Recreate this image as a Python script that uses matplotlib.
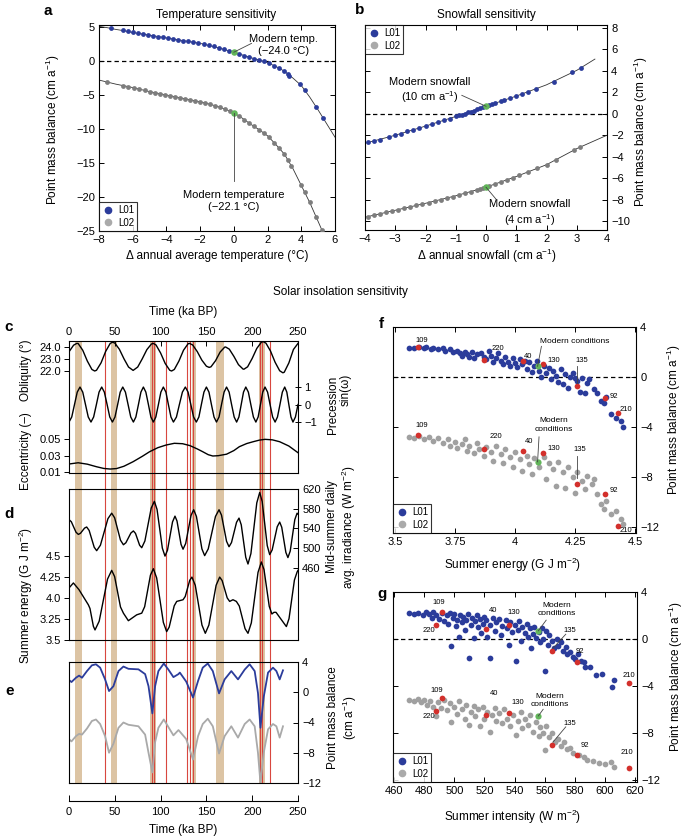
import numpy as np
import matplotlib.pyplot as plt
from matplotlib.lines import Line2D

plt.rcParams['font.family'] = ['Liberation Sans', 'DejaVu Sans']
plt.rcParams['mathtext.fontset'] = 'custom'
plt.rcParams['mathtext.rm'] = 'Liberation Sans'
plt.rcParams['mathtext.it'] = 'Liberation Sans:italic'
plt.rcParams['axes.linewidth'] = 0.8

# ---------------- data ----------------
# a: temperature sensitivity
a_curve_x = [-8, -7.5, -7, -6.5, -6, -5.5, -5, -4.5, -4, -3.5, -3, -2.5, -2, -1.5, -1, -0.5,
             0, 0.5, 1, 1.5, 2, 2.5, 3, 3.5, 4, 4.5, 5, 5.5, 6]
a_l01_curve = [5.1, 4.9, 4.65, 4.45, 4.2, 4.0, 3.8, 3.6, 3.4, 3.2, 3.0, 2.8, 2.6, 2.3, 2.0, 1.65,
               1.3, 0.9, 0.5, 0.15, -0.25, -0.8, -1.5, -2.5, -3.6, -5.3, -7.2, -9.2, -11.2]
a_l02_curve_x = [-8, -7.5, -7, -6.5, -6, -5.5, -5, -4.5, -4, -3.5, -3, -2.5, -2, -1.5, -1, -0.5,
                 0, 0.5, 1, 1.5, 2, 2.5, 3, 3.5, 4, 4.5, 5, 5.3]
a_l02_curve = [-2.8, -3.1, -3.4, -3.65, -3.9, -4.2, -4.5, -4.75, -5.0, -5.25, -5.5, -5.75, -6.0,
               -6.3, -6.65, -7.1, -7.6, -8.4, -9.3, -10.1, -11.0, -12.3, -13.7, -15.8, -18.3,
               -20.8, -23.6, -25.3]
a_l01_x = [-7.3, -6.6, -6.3, -6.0, -5.7, -5.4, -5.1, -4.8, -4.5, -4.2, -3.9, -3.6, -3.3, -3.0,
           -2.7, -2.4, -2.1, -1.8, -1.5, -1.2, -0.9, -0.6, -0.3, 0.3, 0.6, 0.9, 1.2, 1.5, 1.8,
           2.1, 2.4, 2.7, 3.0, 3.2, 3.3, 3.9, 4.2, 4.9, 5.3]
a_l01_y = [4.8, 4.5, 4.35, 4.2, 4.1, 3.95, 3.85, 3.7, 3.6, 3.5, 3.35, 3.25, 3.1, 3.0, 2.9, 2.75,
           2.65, 2.5, 2.3, 2.15, 1.95, 1.7, 1.5, 1.05, 0.8, 0.6, 0.35, 0.15, -0.05, -0.35, -0.7,
           -1.05, -1.5, -1.9, -2.2, -3.4, -4.3, -6.8, -8.4]
a_l02_x = [-7.5, -6.6, -6.3, -5.9, -5.6, -5.3, -5.0, -4.7, -4.4, -4.1, -3.8, -3.5, -3.2, -2.9,
           -2.6, -2.3, -2.0, -1.7, -1.4, -1.1, -0.8, -0.5, -0.2, 0.3, 0.6, 0.9, 1.2, 1.5, 1.8,
           2.1, 2.4, 2.7, 3.0, 3.2, 3.4, 4.0, 4.2, 4.5, 4.9, 5.2]
a_l02_y = [-3.1, -3.6, -3.75, -3.95, -4.15, -4.3, -4.5, -4.65, -4.8, -4.95, -5.1, -5.25, -5.4,
           -5.55, -5.7, -5.85, -6.0, -6.2, -6.35, -6.55, -6.8, -7.1, -7.4, -8.05, -8.6, -9.1,
           -9.6, -10.1, -10.6, -11.2, -12.0, -12.8, -13.7, -14.5, -15.4, -18.3, -19.3, -20.8,
           -23.0, -24.8]
a_modern = [1.3, -7.6]

# b: snowfall sensitivity
b_l01_curve_x = [-4, -3, -2, -1, 0, 1, 2, 3, 3.6]
b_l01_curve = [-2.75, -2.0, -1.15, -0.25, 0.7, 1.65, 2.7, 4.05, 5.1]
b_l02_curve_x = [-4, -3, -2, -1, 0, 1, 2, 3, 4]
b_l02_curve = [-9.65, -9.0, -8.35, -7.65, -6.85, -5.85, -4.75, -3.25, -2.0]
b_l01_x = [-3.9, -3.7, -3.5, -3.2, -3.0, -2.8, -2.6, -2.4, -2.2, -2.0, -1.8, -1.6, -1.4, -1.2,
           -1.0, -0.9, -0.8, -0.7, -0.6, -0.5, -0.4, -0.3, -0.2, -0.1, 0.1, 0.2, 0.3, 0.5, 0.6,
           0.8, 1.0, 1.2, 1.4, 1.65, 2.25, 2.85, 3.15]
b_l01_y = [-2.65, -2.5, -2.4, -2.15, -2.0, -1.85, -1.65, -1.5, -1.33, -1.15, -0.97, -0.8, -0.62,
           -0.45, -0.25, -0.15, -0.07, 0.02, 0.12, 0.2, 0.3, 0.4, 0.5, 0.6, 0.8, 0.9, 0.98, 1.18,
           1.27, 1.46, 1.65, 1.85, 2.05, 2.35, 3.0, 3.85, 4.3]
b_l02_x = [-3.9, -3.7, -3.5, -3.3, -3.1, -2.9, -2.7, -2.5, -2.3, -2.1, -1.9, -1.7, -1.5, -1.3,
           -1.1, -0.9, -0.7, -0.5, -0.3, -0.2, -0.1, 0.1, 0.3, 0.5, 0.7, 0.9, 1.1, 1.4, 1.7, 2.0,
           2.3, 2.9, 3.1]
b_l02_y = [-9.6, -9.45, -9.33, -9.2, -9.07, -8.93, -8.8, -8.68, -8.55, -8.42, -8.28, -8.14, -8.0,
           -7.86, -7.72, -7.57, -7.41, -7.25, -7.09, -7.01, -6.93, -6.75, -6.55, -6.35, -6.15,
           -5.95, -5.74, -5.41, -5.08, -4.75, -4.3, -3.4, -3.1]
b_modern = [0.7, -6.85]

# c: orbital parameters (ka BP)
obl_t = [0, 5, 8.5, 10, 15, 20, 25, 28, 30, 35, 40, 45, 47.5, 50, 55, 60, 65, 70, 75, 80, 85, 90,
         92, 95, 100, 105, 110, 112, 115, 120, 125, 130, 131.5, 135, 140, 145, 150, 153, 155,
         160, 165, 170, 171, 175, 180, 185, 190, 191, 195, 200, 205, 210, 212, 215, 220, 225,
         230, 233.5, 235, 240, 245, 250]
obliquity = [23.6, 24.15, 24.3, 24.29, 23.73, 22.83, 22.13, 22.0, 22.06, 22.68, 23.63, 24.3, 24.4,
             24.33, 23.81, 23.02, 22.33, 22.05, 22.33, 23.02, 23.78, 24.25, 24.3, 24.17, 23.5,
             22.63, 22.06, 22.0, 22.13, 22.83, 23.73, 24.27, 24.3, 24.17, 23.62, 22.91, 22.4,
             22.3, 22.35, 22.86, 23.58, 23.99, 24.0, 23.82, 23.22, 22.53, 22.16, 22.15, 22.35,
             23.05, 23.88, 24.4, 24.45, 24.32, 23.66, 22.73, 22.02, 21.85, 21.9, 22.67, 23.79, 24.3]
prec_t = [0, 3, 6, 9, 12, 15, 18, 21, 24, 26.9, 29.9, 32.8, 35.7, 38.6, 41.6, 44.5, 47.4, 50.2,
          53.1, 55.9, 58.7, 61.6, 64.5, 67.4, 70.3, 73.0, 75.8, 78.5, 81.2, 83.9, 86.7, 89.4,
          92.1, 94.8, 97.6, 100.3, 103, 105.8, 108.5, 111.3, 114, 117.3, 120.5, 123.8, 127, 130,
          133, 136, 139, 141.8, 144.5, 147.3, 150, 152.8, 155.5, 158.3, 161, 163.8, 166.5, 169.3,
          172, 174.8, 177.5, 180.3, 183, 185.5, 188, 190.5, 193, 195.8, 198.5, 201.3, 204, 206.5,
          209, 211.5, 214, 216.8, 219.5, 222.3, 225, 227.6, 230.3, 232.9, 235.5, 237.8, 240,
          242.3, 244.5, 247.2, 250]
precession = [-1, -0.71, 0, 0.71, 1, 0.71, 0, -0.71, -1, -0.71, 0, 0.71, 1, 0.71, 0, -0.71, -1,
              -0.71, 0, 0.71, 1, 0.71, 0, -0.71, -1, -0.71, 0, 0.71, 1, 0.71, 0, -0.71, -1, -0.71,
              0, 0.71, 1, 0.71, 0, -0.71, -1, -0.71, 0, 0.71, 1, 0.71, 0, -0.71, -1, -0.71, 0,
              0.71, 1, 0.71, 0, -0.71, -1, -0.71, 0, 0.71, 1, 0.71, 0, -0.71, -1, -0.71, 0, 0.71,
              1, 0.71, 0, -0.71, -1, -0.71, 0, 0.71, 1, 0.71, 0, -0.71, -1, -0.71, 0, 0.71, 1,
              0.71, 0, -0.71, -1, -0.71, 0]
ecc_t = [0, 10, 20, 30, 38, 45, 52, 60, 70, 80, 88, 97, 106, 115, 124, 132, 140, 146, 152, 157,
         163, 172, 180, 186, 194, 201, 208, 214, 222, 230, 240, 250]
eccentricity = [0.0197, 0.0212, 0.0195, 0.0164, 0.0143, 0.0136, 0.0142, 0.017, 0.0225, 0.029,
                0.0346, 0.0395, 0.0427, 0.0448, 0.0443, 0.042, 0.038, 0.0346, 0.031, 0.0294,
                0.0298, 0.0316, 0.036, 0.0407, 0.0445, 0.0467, 0.0487, 0.0496, 0.049, 0.0467,
                0.0415, 0.0334]

# d: mid-summer irradiance (W m-2) and summer energy (GJ m-2)
irr_t = [0, 2.55, 5.1, 7.65, 10.2, 12.5, 14.75, 17.0, 19.3, 22.0, 24.75, 27.5, 30.2, 34.3, 38.4,
         42.5, 46.6, 49.8, 53.0, 56.2, 59.4, 62.1, 64.85, 67.6, 70.3, 72.6, 74.85, 77.1, 79.4,
         82.85, 86.3, 89.75, 93.2, 96.1, 99.0, 101.9, 104.8, 107.5, 110.25, 113.0, 115.7, 117.9,
         120.1, 122.3, 124.5, 127.4, 130.3, 133.2, 136.1, 139.1, 142.1, 145.1, 148.1, 152.0,
         155.95, 159.9, 163.8, 166.5, 169.25, 172.0, 174.7, 177.4, 180.15, 182.9, 185.6, 188.05,
         190.5, 192.95, 195.4, 198.6, 201.8, 205.0, 208.2, 210.9, 213.65, 216.4, 219.1, 221.8,
         224.55, 227.3, 230, 232.25, 234.5, 236.75, 239, 241.5, 244, 246.5, 249, 250]
irradiance = [558, 553.6, 543, 532.4, 528, 530.2, 535.5, 540.8, 543, 536, 519, 502, 495, 506.1,
              533, 559.9, 571, 561.7, 539, 516.3, 507, 511.1, 521, 530.9, 535, 530, 518, 506, 501,
              514.7, 548, 581.3, 595, 578.8, 539.5, 500.2, 484, 495.8, 524.5, 553.2, 565, 555.2,
              531.5, 507.8, 498, 509.7, 538, 566.3, 578, 564.4, 531.5, 498.6, 485, 498.6, 531.5,
              564.4, 578, 567, 540.5, 514, 503, 511.5, 532, 552.5, 561, 547.4, 514.5, 481.6, 468,
              489.2, 540.5, 591.8, 613, 594.6, 550, 505.4, 487, 496.6, 520, 543.4, 553, 542.5,
              517, 491.5, 481, 494.1, 526, 557.9, 571, 569]
en_t = [0, 2.4, 4.8, 7.85, 10.9, 16, 21.1, 22.9, 24.75, 26.6, 28.4, 32.95, 37.5, 42.05, 46.6,
        49.8, 53.0, 56.2, 59.4, 62.1, 64.8, 69.35, 73.9, 76.65, 79.4, 82.6, 85.75, 88.9, 92.1,
        95.7, 99.35, 103.0, 106.6, 109.35, 112.1, 114.85, 117.6, 124.5, 126.9, 129.35, 131.8,
        134.2, 137.85, 141.5, 145.15, 148.8, 152.7, 156.65, 160.6, 164.5, 167.2, 169.95, 172.7,
        175.4, 179, 182.7, 185.9, 189.05, 192.2, 195.4, 199.05, 202.7, 206.35, 210, 212.9,
        215.75, 218.6, 221.5, 223.75, 226, 231.65, 237.3, 240.2, 243.15, 246.1, 249, 250]
energy = [4.12, 4.15, 4.18, 4.14, 4.10, 4.01, 3.92, 3.876, 3.77, 3.664, 3.62, 3.724, 3.975, 4.226,
          4.33, 4.256, 4.075, 3.894, 3.82, 3.775, 3.73, 3.765, 3.80, 3.81, 3.82, 3.897, 4.085,
          4.273, 4.35, 4.24, 3.975, 3.71, 3.60, 3.653, 3.78, 3.907, 3.96, 3.98, 4.019, 4.115,
          4.211, 4.25, 4.152, 3.915, 3.678, 3.58, 3.678, 3.915, 4.152, 4.25, 4.208, 4.105, 4.002,
          3.96, 3.98, 3.96, 3.905, 3.77, 3.635, 3.58, 3.704, 4.005, 4.306, 4.43, 4.339, 4.12,
          3.901, 3.81, 3.83, 3.83, 3.745, 3.66, 3.755, 3.985, 4.215, 4.31, 4.33]

# e: modelled point mass balance through time (cm a-1)
pmb_t = [0, 2.7, 7.6, 11, 14.2, 19.6, 25, 29.4, 34, 39.4, 43.7, 48.5, 54, 59.4, 64.9, 75.8, 83.1,
         86.8, 91, 94, 97.6, 103.5, 108.5, 114, 119.5, 121, 128, 135.4, 140.9, 146, 151.5, 157,
         163.8, 169.9, 177.2, 184.5, 191.8, 197.2, 202.7, 206.3, 209, 212.6, 217.3, 222.7, 226.4,
         230, 233.6]
pmb_l01 = [1.62, 1.35, 1.92, 2.2, 1.92, 2.8, 3.56, 3.7, 3.25, 1.7, 0.16, 0.8, 2.8, 3.4, 3.1, 3.03,
           2.4, 0.8, -2.8, 0.8, 2.8, 3.8, 3.0, 2.0, 2.4, 2.6, 1.4, -0.7, 1.5, 3.25, 3.8, 2.8,
           -0.15, 1.7, 2.8, 1.7, 3.0, 3.7, 2.8, -0.1, -4.7, -0.6, 2.6, 3.25, 2.8, 1.7, 2.9]
pmb_l02 = [-6.2, -6.5, -5.8, -5.5, -5.6, -4.8, -3.8, -3.6, -4.2, -5.8, -8.0, -6.8, -4.7, -4.0,
           -4.3, -4.5, -5.6, -8.0, -10.6, -6.6, -4.7, -3.6, -4.6, -5.7, -5.0, -5.2, -6.2, -8.9,
           -5.8, -4.2, -3.5, -4.5, -8.1, -5.8, -4.5, -6.0, -4.2, -3.6, -4.5, -8.0, -12.0, -8.0,
           -4.9, -4.2, -4.5, -6.0, -4.5]
band_starts = [6.6, 45.5, 88.5, 134, 161, 207]
band_ends = [13.9, 52.4, 95.5, 139, 169, 214]
red_times = [39.7, 90.5, 93, 106, 128.8, 132.5, 135.4, 208.5, 211, 219]

# f, g: mass balance vs summer energy / summer intensity
f_l01 = [(3.56, 2.35), (3.58, 2.3), (3.6, 2.4), (3.62, 2.3), (3.63, 2.4), (3.65, 2.25), (3.66, 2.35),
         (3.68, 2.2), (3.7, 2.3), (3.71, 2.1), (3.73, 2.2), (3.74, 2.0), (3.76, 2.1), (3.77, 1.9),
         (3.78, 1.7), (3.79, 2.0), (3.8, 1.8), (3.81, 1.6), (3.82, 2.0), (3.83, 1.5), (3.84, 1.8),
         (3.86, 1.9), (3.87, 1.6), (3.88, 1.4), (3.89, 2.1), (3.9, 1.7), (3.91, 1.2), (3.92, 1.5),
         (3.93, 1.9), (3.94, 1.3), (3.95, 1.0), (3.96, 1.6), (3.97, 1.2), (3.98, 0.9), (3.99, 1.5),
         (4.0, 1.1), (4.01, 0.8), (4.02, 1.4), (4.03, 1.0), (4.04, 1.3), (4.05, 0.6), (4.06, 1.2),
         (4.07, 0.4), (4.08, 0.9), (4.09, 1.3), (4.1, 0.5), (4.11, 0.0), (4.12, 0.9), (4.13, 0.3),
         (4.14, 0.7), (4.15, -0.2), (4.16, 0.5), (4.17, 0.1), (4.18, -0.4), (4.19, 0.6), (4.2, -0.6),
         (4.21, 0.2), (4.22, -0.9), (4.23, 0.0), (4.24, 0.3), (4.25, -0.1), (4.26, -0.3), (4.27, -1.2),
         (4.28, -0.1), (4.29, -1.3), (4.3, -0.5), (4.31, -0.2), (4.33, -1.0), (4.34, -1.3), (4.36, -1.9),
         (4.37, -2.1), (4.38, -1.6), (4.4, -3.0), (4.42, -3.3), (4.44, -3.5), (4.45, -4.0)]
f_l02 = [(3.56, -4.8), (3.58, -4.9), (3.6, -4.7), (3.62, -5.0), (3.64, -4.8), (3.66, -5.1), (3.68, -4.9),
         (3.7, -5.3), (3.72, -5.0), (3.73, -5.5), (3.75, -5.2), (3.76, -5.7), (3.78, -5.4), (3.79, -5.0),
         (3.8, -5.9), (3.81, -5.5), (3.83, -6.1), (3.84, -5.3), (3.85, -5.8), (3.87, -6.3), (3.88, -5.6),
         (3.9, -6.0), (3.91, -6.7), (3.92, -5.5), (3.94, -6.2), (3.95, -6.9), (3.96, -5.8), (3.98, -6.4),
         (3.99, -7.2), (4.0, -6.0), (4.02, -6.6), (4.03, -7.5), (4.05, -6.3), (4.06, -7.0), (4.07, -7.8),
         (4.08, -6.5), (4.1, -7.2), (4.12, -6.4), (4.13, -8.2), (4.14, -6.9), (4.16, -7.4), (4.17, -8.7),
         (4.18, -6.8), (4.2, -7.6), (4.21, -8.9), (4.22, -7.2), (4.24, -8.0), (4.25, -9.3), (4.26, -7.6),
         (4.28, -8.3), (4.29, -9.0), (4.3, -7.9), (4.32, -8.6), (4.33, -8.2), (4.34, -9.4), (4.36, -10.2),
         (4.37, -10.6), (4.38, -9.9), (4.4, -11.0), (4.42, -10.7), (4.44, -11.4), (4.45, -11.8)]
g_l01 = [(470, 2.2), (473, 2.1), (476, 2.2), (479, 2.0), (481, 2.3), (483, 2.1), (485, 1.8), (486, 2.3),
         (488, 2.0), (490, 1.7), (492, 2.2), (493, 1.5), (495, 2.0), (496, 1.3), (497, 2.2), (498, -0.6),
         (499, 1.8), (500, 2.1), (501, 1.1), (502, 1.6), (503, 0.2), (504, 2.0), (505, 1.4), (506, 1.9),
         (507, 0.8), (508, 1.6), (509, 2.1), (510, -1.6), (511, 1.2), (512, 1.8), (513, 0.1), (514, 1.5),
         (515, 2.0), (516, 1.0), (517, 1.7), (518, 0.5), (519, 1.3), (520, 1.9), (521, 1.6), (522, 0.2),
         (524, -1.6), (524, 1.2), (526, 1.8), (527, 0.7), (528, 1.4), (530, 1.7), (531, 0.3), (532, 1.1),
         (534, 1.6), (535, 0.9), (536, -0.5), (537, 1.4), (538, 0.6), (540, 1.2), (541, -1.9), (542, 0.8),
         (543, 1.5), (544, -0.2), (545, 1.0), (547, 0.5), (548, 1.3), (549, 0.2), (550, 0.9), (551, -0.8),
         (552, 0.4), (553, 1.0), (554, 0.1), (556, 0.6), (557, -0.3), (558, 0.9), (559, 0.0), (560, -2.7),
         (561, 0.7), (562, -0.5), (563, 0.3), (565, -0.2), (566, -0.8), (568, 0.0), (569, -0.6), (571, -0.3),
         (572, -1.0), (574, -0.7), (575, -1.3), (577, -1.1), (579, -1.5), (580, -1.7), (582, -1.3),
         (584, -1.9), (586, -2.0), (587, -2.4), (590, -2.4), (594, -3.1), (598, -3.0), (605, -4.1),
         (606, -3.5)]
g_l02 = [(470, -5.2), (473, -5.3), (476, -5.1), (478, -5.4), (480, -5.2), (482, -5.6), (484, -5.3),
         (486, -5.8), (488, -6.6), (489, -5.4), (491, -5.9), (493, -5.2), (495, -6.1), (497, -5.5),
         (498, -7.1), (500, -5.8), (502, -6.4), (503, -5.3), (505, -6.0), (507, -6.8), (508, -5.6),
         (510, -7.3), (511, -6.2), (513, -5.7), (514, -6.6), (516, -6.0), (517, -7.4), (519, -5.8),
         (520, -6.8), (522, -6.2), (524, -7.9), (525, -6.5), (527, -5.9), (528, -7.0), (530, -6.3),
         (532, -7.2), (533, -6.0), (535, -6.8), (537, -7.4), (539, -6.5), (541, -8.2), (542, -7.0),
         (544, -6.2), (545, -7.6), (547, -6.8), (549, -7.3), (550, -6.5), (552, -7.9), (554, -7.1),
         (556, -8.3), (557, -7.5), (559, -8.0), (560, -9.5), (561, -7.4), (563, -8.4), (565, -8.0),
         (567, -8.8), (569, -8.5), (571, -9.1), (573, -8.8), (575, -9.4), (577, -9.3), (579, -9.7),
         (583, -9.9), (586, -10.1), (588, -10.3), (592, -10.4), (596, -10.6), (600, -10.7),
         (604, -10.5), (606, -10.9)]
red_labels = ['109', '220', '40', '130', '135', '92', '210']
f_red_x = [3.597, 3.87, 4.035, 4.118, 4.257, 4.375, 4.43]
f_red_l01 = [2.4, 1.33, 1.28, 1.07, -0.75, -1.65, -2.85]
f_red_l02 = [-4.67, -5.8, -5.9, -6.1, -8.6, -9.4, -11.9]
f_modern_x = 4.094
f_modern = [0.85, -6.8]
g_red_x = [491.6, 487.9, 521, 536.6, 564.7, 581.3, 616.2]
g_red_l01 = [2.29, 1.16, 0.88, 1.16, -1.05, -1.93, -3.78]
g_red_l02 = [-5.02, -6.15, -6.48, -6.34, -9.05, -9.93, -10.98]
g_modern_x = 555.8
g_modern = [0.69, -6.57]

# ---------------- style ----------------
BLUE = '#2b3c9b'
GRAY_A = '#7d7d7d'
GRAY_F = '#a0a0a0'
GRAY_E = '#a9a9a9'
GREEN = '#62b55a'
RED = '#d3302c'
TAN = '#dcc4a4'
RED_LINE = '#d8473f'

W, H = 685, 839
fig = plt.figure(figsize=(W / 100, H / 100), dpi=100)


def rect(l, t, r, b):
    return [l / W, 1 - b / H, (r - l) / W, (b - t) / H]


def ftext(x, y, s, **kw):
    kw.setdefault('ha', 'center')
    kw.setdefault('va', 'center')
    kw.setdefault('fontsize', 8.5)
    fig.text(x / W, 1 - y / H, s, **kw)


def style_in(ax, **kw):
    ax.tick_params(direction='in', length=3.5, width=0.7, labelsize=8, pad=3, **kw)


def legend(ax, loc):
    h = [Line2D([], [], ls='', marker='o', ms=4.5, color=BLUE, label='L01'),
         Line2D([], [], ls='', marker='o', ms=4.5, color='#aaaaaa', label='L02')]
    lg = ax.legend(handles=h, loc=loc, fontsize=7, frameon=True, fancybox=False,
                   edgecolor='k', borderaxespad=0, handletextpad=0.4, borderpad=0.35,
                   labelspacing=0.25, handlelength=1.2)
    lg.get_frame().set_linewidth(0.8)


def thin(ax, x0, y0, x1, y1, c='#444444'):
    ax.plot([x0, x1], [y0, y1], color=c, lw=0.6, zorder=5)


# ---------------- a ----------------
ax = fig.add_axes(rect(99, 25, 335, 231))
ax.plot(a_curve_x, a_l01_curve, color='#333333', lw=0.6, zorder=2)
ax.plot(a_l02_curve_x, a_l02_curve, color='#333333', lw=0.6, zorder=2)
ax.scatter(a_l01_x, a_l01_y, s=12, color=BLUE, linewidths=0, zorder=3)
ax.scatter(a_l02_x, a_l02_y, s=12, color=GRAY_A, linewidths=0, zorder=3)
ax.scatter([0, 0], a_modern, s=22, color=GREEN, linewidths=0, zorder=4)
ax.axhline(0, color='k', lw=0.9, ls=(0, (3.5, 2.5)), zorder=1)
ax.set_xlim(-8, 6)
ax.set_ylim(-25, 5.3)
ax.set_xticks(range(-8, 7, 2))
ax.set_yticks(range(-25, 6, 5))
style_in(ax, top=True, right=True)
thin(ax, 0, 1.3, 1.05, 2.6)
thin(ax, 0, -7.6, 0, -17.6)
ax.text(2.97, 2.35, 'Modern temp.\n(\u221224.0 \u00b0C)', ha='center', va='center', fontsize=8,
        linespacing=1.15)
ax.text(0, -20.6, 'Modern temperature\n(\u221222.1 \u00b0C)', ha='center', va='center', fontsize=8,
        linespacing=1.15)
legend(ax, 'lower left')
ftext(48, 11, 'a', fontsize=11, fontweight='bold')
ftext(216, 15, 'Temperature sensitivity')
ftext(217, 256, '\u0394 annual average temperature (\u00b0C)')
ftext(53, 130, 'Point mass balance (cm a$^{-1}$)', rotation=90)

# ---------------- b ----------------
ax = fig.add_axes(rect(365, 25, 607, 230))
ax.plot(b_l01_curve_x, b_l01_curve, color='#333333', lw=0.6, zorder=2)
ax.plot(b_l02_curve_x, b_l02_curve, color='#333333', lw=0.6, zorder=2)
ax.scatter(b_l01_x, b_l01_y, s=12, color=BLUE, linewidths=0, zorder=3)
ax.scatter(b_l02_x, b_l02_y, s=12, color=GRAY_A, linewidths=0, zorder=3)
ax.scatter([0, 0], b_modern, s=22, color=GREEN, linewidths=0, zorder=4)
ax.axhline(0, color='k', lw=0.9, ls=(0, (3.5, 2.5)), zorder=1)
ax.set_xlim(-4, 4)
ax.set_ylim(-10.84, 8.28)
ax.set_xticks(range(-4, 5))
ax.set_yticks(range(-10, 9, 2))
style_in(ax, top=True, right=True, labelleft=False, labelright=True)
thin(ax, 0, 0.7, -0.8, 1.72)
thin(ax, 0, -6.85, 0.36, -8.06)
ax.text(-1.85, 2.1, 'Modern snowfall\n(10 cm a$^{-1}$)', ha='center', va='center', fontsize=8,
        linespacing=1.2)
ax.text(1.46, -9.3, 'Modern snowfall\n(4 cm a$^{-1}$)', ha='center', va='center', fontsize=8,
        linespacing=1.2)
legend(ax, 'upper left')
ftext(360, 10, 'b', fontsize=11, fontweight='bold')
ftext(486, 15, 'Snowfall sensitivity')
ftext(487, 256, '\u0394 annual snowfall (cm a$^{-1}$)')
ftext(641, 132, 'Point mass balance (cm a$^{-1}$)', rotation=90)

ftext(340, 292, 'Solar insolation sensitivity')

# ---------------- c, d, e background bands ----------------
bg = fig.add_axes(rect(69, 341, 298, 783))
bg.set_xlim(0, 250)
bg.set_ylim(0, 1)
bg.axis('off')
for s, e in zip(band_starts, band_ends):
    bg.axvspan(s, e, color=TAN, lw=0)
for t in red_times:
    bg.axvline(t, color=RED_LINE, lw=0.8)

# ---------------- c ----------------
axc = fig.add_axes(rect(69, 341, 298, 473), facecolor='none')
axc.plot(obl_t, obliquity, color='k', lw=1.0)
axc.set_xlim(0, 250)
axc.set_ylim(13.5, 24.5)
axc.set_yticks([22, 23, 24])
axc.set_yticklabels(['22.0', '23.0', '24.0'])
axc.xaxis.tick_top()
axc.set_xticks(range(0, 251, 50))
axc.tick_params(axis='x', direction='in', length=3.5, width=0.7, labelsize=8, pad=3)
axc.tick_params(axis='y', direction='out', length=3.5, width=0.7, labelsize=8, pad=2)
axp = axc.twinx()
axp.plot(prec_t, precession, color='k', lw=1.0)
axp.set_ylim(-3.91, 3.63)
axp.set_yticks([-1, 0, 1])
axp.tick_params(axis='y', direction='inout', length=5, width=0.7, labelsize=8, pad=2)
axe_ = axc.twinx()
axe_.plot(ecc_t, eccentricity, color='k', lw=1.0)
axe_.set_ylim(0.0088, 0.1688)
axe_.yaxis.tick_left()
axe_.set_yticks([0.01, 0.03, 0.05])
axe_.set_yticklabels(['0.01', '0.03', '0.05'])
axe_.tick_params(axis='y', direction='out', length=3.5, width=0.7, labelsize=8, pad=2)
for a_ in (axp, axe_):
    for sp in a_.spines.values():
        sp.set_visible(False)
ftext(183, 312, 'Time (ka BP)')
ftext(4, 327, 'c', fontsize=11, fontweight='bold', ha='left')
ftext(26, 370, 'Obliquity (\u00b0)', rotation=90)
ftext(26, 451, 'Eccentricity (\u2013)', rotation=90)
ftext(333, 405, 'Precession', rotation=90)
ftext(346, 390, 'sin(\u03c9)', rotation=90)

# ---------------- d ----------------
axd = fig.add_axes(rect(69, 489, 298, 640), facecolor='none')
axd.plot(en_t, energy, color='k', lw=1.0)
axd.set_xlim(0, 250)
axd.set_ylim(3.5, 5.30)
axd.set_xticks([])
axd.set_yticks([3.5, 3.75, 4.0, 4.25, 4.5])
axd.set_yticklabels(['3.5', '3.25', '4.0', '4.25', '4.5'])
axd.tick_params(axis='y', direction='out', length=3.5, width=0.7, labelsize=8, pad=2)
axdr = axd.twinx()
axdr.plot(irr_t, irradiance, color='k', lw=1.0)
axdr.set_ylim(314, 620)
axdr.set_yticks([460, 500, 540, 580, 620])
axdr.tick_params(axis='y', direction='in', length=3.5, width=0.7, labelsize=8, pad=3)
for sp in axdr.spines.values():
    sp.set_visible(False)
ftext(4, 514, 'd', fontsize=11, fontweight='bold', ha='left')
ftext(26, 595, 'Summer energy (G J m$^{-2}$)', rotation=90)
ftext(342, 527, 'Mid-summer daily\navg. irradiance (W m$^{-2}$)', rotation=90, linespacing=1.2)

# ---------------- e ----------------
axe = fig.add_axes(rect(69, 662, 298, 783), facecolor='none')
axe.plot(pmb_t, pmb_l02, color=GRAY_E, lw=1.3)
axe.plot(pmb_t, pmb_l01, color=BLUE, lw=1.3)
axe.set_xlim(0, 250)
axe.set_ylim(-12, 4)
axe.set_xticks([])
axe.yaxis.tick_right()
axe.set_yticks([-12, -8, -4, 0, 4])
axe.tick_params(axis='y', direction='in', length=3.5, width=0.7, labelsize=8, pad=3)
ftext(5, 691, 'e', fontsize=11, fontweight='bold', ha='left')
ftext(343, 718, 'Point mass balance\n(cm a$^{-1}$)', rotation=90, linespacing=1.2)

axt = fig.add_axes(rect(69, 800, 298, 801), facecolor='none')
axt.set_xlim(0, 250)
axt.set_xticks(range(0, 251, 50))
axt.set_yticks([])
for k in ('left', 'right', 'top'):
    axt.spines[k].set_visible(False)
axt.tick_params(axis='x', direction='in', length=4, width=0.7, labelsize=8, pad=4)
ftext(183, 830, 'Time (ka BP)')

# ---------------- f ----------------
axf = fig.add_axes(rect(393, 327, 636, 533))
fx1, fy1 = np.array(f_l01).T
fx2, fy2 = np.array(f_l02).T
axf.scatter(fx1, fy1, s=17, color=BLUE, linewidths=0, zorder=3)
axf.scatter(fx2, fy2, s=17, color=GRAY_F, linewidths=0, zorder=3)
axf.scatter(f_red_x, f_red_l01, s=17, color=RED, linewidths=0, zorder=4)
axf.scatter(f_red_x, f_red_l02, s=17, color=RED, linewidths=0, zorder=4)
axf.scatter([f_modern_x] * 2, f_modern, s=20, color=GREEN, linewidths=0, zorder=5)
axf.axhline(0, color='k', lw=0.9, ls=(0, (3.5, 2.5)), zorder=2)
axf.set_xlim(3.4917, 4.504)
axf.set_ylim(-12.5, 4)
axf.set_xticks([3.5, 3.75, 4, 4.25, 4.5])
axf.set_xticklabels(['3.5', '3.75', '4', '4.25', '4.5'])
axf.set_yticks([-12, -8, -4, 0, 4])
style_in(axf, top=True, right=True, labelleft=False, labelright=True)
f_lab_l01 = [(3.61, 2.95), (3.93, 2.27), (4.056, 1.65), (4.16, 1.33), (4.28, 1.33), (4.41, -1.55),
             (4.46, -2.6)]
f_lab_l02 = [(3.61, -3.87), (3.92, -4.8), (4.06, -5.2), (4.16, -5.73), (4.27, -5.81), (4.41, -9.12),
             (4.46, -12.27)]
for lab, p1, p2 in zip(red_labels, f_lab_l01, f_lab_l02):
    axf.text(p1[0], p1[1], lab, fontsize=5.5, ha='center', va='center', zorder=6)
    axf.text(p2[0], p2[1], lab, fontsize=5.5, ha='center', va='center', zorder=6)
axf.text(4.25, 2.85, 'Modern conditions', fontsize=6, ha='center', va='center')
axf.text(4.16, -3.84, 'Modern\nconditions', fontsize=6, ha='center', va='center', linespacing=1.3)
thin(axf, 4.11, 2.45, f_modern_x, f_modern[0])
thin(axf, 4.10, -4.8, f_modern_x, f_modern[1])
thin(axf, 4.257, 0.9, 4.257, -0.45)
thin(axf, 4.257, -6.3, 4.257, -8.1)
legend(axf, 'lower left')
ftext(381, 324, 'f', fontsize=11, fontweight='bold')
ftext(513, 565, 'Summer energy (G J m$^{-2}$)')
ftext(674, 420, 'Point mass balance (cm a$^{-1}$)', rotation=90)

# ---------------- g ----------------
axg = fig.add_axes(rect(393, 592, 637, 782))
gx1, gy1 = np.array(g_l01).T
gx2, gy2 = np.array(g_l02).T
axg.scatter(gx1, gy1, s=17, color=BLUE, linewidths=0, zorder=3)
axg.scatter(gx2, gy2, s=17, color=GRAY_F, linewidths=0, zorder=3)
axg.scatter(g_red_x, g_red_l01, s=17, color=RED, linewidths=0, zorder=4)
axg.scatter(g_red_x, g_red_l02, s=17, color=RED, linewidths=0, zorder=4)
axg.scatter([g_modern_x] * 2, g_modern, s=20, color=GREEN, linewidths=0, zorder=5)
axg.axhline(0, color='k', lw=0.9, ls=(0, (3.5, 2.5)), zorder=2)
axg.set_xlim(459.3, 621.3)
axg.set_ylim(-12.2, 4)
axg.set_xticks(range(460, 621, 20))
axg.set_yticks([-12, -8, -4, 0, 4])
style_in(axg, top=True, right=True, labelleft=False, labelright=True)
g_lab_l01 = [(489.4, 3.12), (482.8, 0.69), (526, 2.4), (539.2, 2.26), (576.8, 0.74), (583.5, -1.1),
             (616.2, -3.09)]
g_lab_l02 = [(488.3, -4.36), (482.8, -6.62), (526.4, -4.69), (541.9, -5.38), (576.8, -7.17),
             (586.8, -9.1), (614.5, -9.66)]
for lab, p1, p2 in zip(red_labels, g_lab_l01, g_lab_l02):
    axg.text(p1[0], p1[1], lab, fontsize=5.5, ha='center', va='center', zorder=6)
    axg.text(p2[0], p2[1], lab, fontsize=5.5, ha='center', va='center', zorder=6)
axg.text(568, 2.51, 'Modern\nconditions', fontsize=6, ha='center', va='center', linespacing=1.3)
axg.text(563.1, -5.24, 'Modern\nconditions', fontsize=6, ha='center', va='center', linespacing=1.3)
thin(axg, 561, 1.6, g_modern_x, g_modern[0])
thin(axg, 559, -6.0, g_modern_x, g_modern[1])
thin(axg, 574, 0.4, 565.5, -0.8)
thin(axg, 574, -7.5, 565.5, -8.8)
legend(axg, 'lower left')
ftext(382, 594, 'g', fontsize=11, fontweight='bold')
ftext(513, 817, 'Summer intensity (W m$^{-2}$)')
ftext(676, 677, 'Point mass balance (cm a$^{-1}$)', rotation=90)

fig.savefig('out.png', dpi=100)
